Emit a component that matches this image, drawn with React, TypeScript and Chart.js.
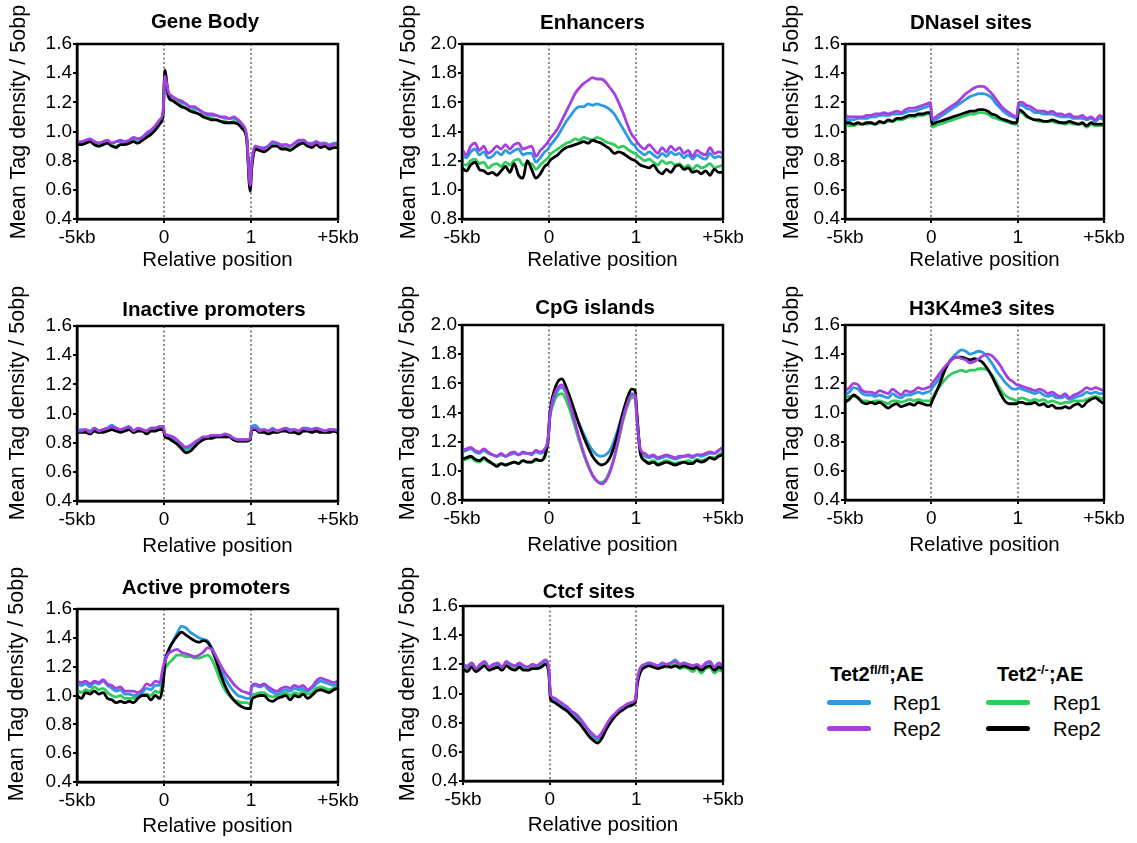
import React, { useEffect, useRef } from 'react';
import { Chart, registerables } from 'chart.js';

Chart.register(...registerables);

const FONT = "'Liberation Sans', Arial, Helvetica, sans-serif";

// Shared x positions (0 = -5kb, 1 = start "0", 2 = end "1", 3 = +5kb)
const POS = [
  0, 0.05, 0.1, 0.15, 0.2, 0.25, 0.3, 0.35, 0.4, 0.45, 0.5, 0.55, 0.6, 0.65, 0.7, 0.75, 0.8, 0.85, 0.9, 0.95,
  0.99, 1.01,
  1.05, 1.1, 1.15, 1.2, 1.25, 1.3, 1.35, 1.4, 1.45, 1.5, 1.55, 1.6, 1.65, 1.7, 1.75, 1.8, 1.85, 1.9, 1.95,
  1.99, 2.01,
  2.05, 2.1, 2.15, 2.2, 2.25, 2.3, 2.35, 2.4, 2.45, 2.5, 2.55, 2.6, 2.65, 2.7, 2.75, 2.8, 2.85, 2.9, 2.95, 3,
];
const X_LABELS = ['-5kb', '0', '1', '+5kb'];
const Y_TITLE = 'Mean Tag density / 5obp';
const X_TITLE = 'Relative position';
const SERIES_NAMES = ['Tet2fl/fl;AE Rep1', 'Tet2fl/fl;AE Rep2', 'Tet2-/-;AE Rep1', 'Tet2-/-;AE Rep2'];

// ---------- Gene Body ----------
const GB_FL1 = [
  0.93, 0.92, 0.94, 0.94, 0.93, 0.92, 0.92, 0.93, 0.92, 0.93, 0.93, 0.93, 0.94, 0.95, 0.95, 0.96, 0.98, 1.0, 1.03, 1.07,
  1.13, 1.4,
  1.27, 1.23, 1.22, 1.2, 1.19, 1.17, 1.16, 1.15, 1.13, 1.12, 1.11, 1.11, 1.1, 1.09, 1.09, 1.09, 1.08, 1.04, 0.97,
  0.62, 0.79,
  0.9, 0.89, 0.89, 0.9, 0.92, 0.92, 0.91, 0.91, 0.9, 0.92, 0.93, 0.94, 0.92, 0.92, 0.93, 0.92, 0.92, 0.91, 0.92, 0.92,
];
const GB_FL2 = [
  0.93, 0.93, 0.94, 0.95, 0.93, 0.92, 0.93, 0.94, 0.92, 0.93, 0.94, 0.93, 0.94, 0.96, 0.95, 0.96, 0.99, 1.01, 1.04, 1.08,
  1.14, 1.38,
  1.27, 1.24, 1.22, 1.21, 1.19, 1.17, 1.17, 1.15, 1.13, 1.12, 1.12, 1.11, 1.1, 1.1, 1.09, 1.1, 1.08, 1.05, 0.97,
  0.63, 0.8,
  0.9, 0.89, 0.88, 0.9, 0.93, 0.92, 0.9, 0.91, 0.9, 0.92, 0.94, 0.94, 0.92, 0.91, 0.93, 0.91, 0.92, 0.9, 0.91, 0.92,
];
const GB_KO1 = [
  0.91, 0.91, 0.92, 0.93, 0.91, 0.9, 0.91, 0.92, 0.9, 0.9, 0.91, 0.91, 0.92, 0.93, 0.93, 0.94, 0.96, 0.98, 1.02, 1.06,
  1.12, 1.4,
  1.25, 1.22, 1.2, 1.18, 1.16, 1.15, 1.14, 1.12, 1.11, 1.1, 1.09, 1.08, 1.07, 1.07, 1.06, 1.07, 1.06, 1.03, 0.96,
  0.61, 0.77,
  0.88, 0.88, 0.87, 0.88, 0.91, 0.9, 0.89, 0.89, 0.88, 0.89, 0.92, 0.92, 0.9, 0.9, 0.91, 0.9, 0.9, 0.89, 0.89, 0.9,
];
const GB_KO2 = [
  0.91, 0.91, 0.92, 0.93, 0.91, 0.9, 0.91, 0.92, 0.9, 0.89, 0.91, 0.91, 0.92, 0.93, 0.92, 0.94, 0.96, 0.98, 1.01, 1.05,
  1.12, 1.42,
  1.24, 1.21, 1.19, 1.17, 1.16, 1.14, 1.13, 1.12, 1.1, 1.09, 1.08, 1.08, 1.07, 1.06, 1.06, 1.06, 1.05, 1.02, 0.95,
  0.59, 0.76,
  0.88, 0.87, 0.86, 0.88, 0.9, 0.9, 0.88, 0.88, 0.87, 0.89, 0.91, 0.92, 0.9, 0.89, 0.91, 0.89, 0.9, 0.88, 0.89, 0.89,
];

// ---------- Enhancers ----------
const ENH_FL1 = [
  1.24, 1.22, 1.26, 1.28, 1.24, 1.26, 1.22, 1.23, 1.26, 1.24, 1.27, 1.25, 1.27, 1.28, 1.24, 1.25, 1.25, 1.19, 1.22, 1.26,
  1.28, 1.3,
  1.33, 1.37, 1.42, 1.47, 1.51, 1.55, 1.57, 1.57, 1.59, 1.58, 1.59, 1.58, 1.57, 1.55, 1.52, 1.47, 1.42, 1.37, 1.32,
  1.3, 1.28,
  1.26, 1.24, 1.26, 1.24, 1.22, 1.25, 1.23, 1.26, 1.24, 1.25, 1.22, 1.24, 1.21, 1.24, 1.22, 1.21, 1.25, 1.22, 1.23, 1.22,
];
const ENH_FL2 = [
  1.28, 1.24, 1.3, 1.32, 1.27, 1.3, 1.25, 1.27, 1.3, 1.28, 1.31, 1.28, 1.31, 1.32, 1.28, 1.29, 1.3, 1.23, 1.27, 1.3,
  1.33, 1.35,
  1.38, 1.42, 1.48, 1.54, 1.6, 1.66, 1.7, 1.73, 1.75, 1.77, 1.76, 1.76, 1.74, 1.7, 1.66, 1.6, 1.53, 1.45, 1.38,
  1.35, 1.33,
  1.3, 1.28, 1.31, 1.28, 1.25, 1.29, 1.26, 1.3, 1.27, 1.29, 1.25, 1.27, 1.23, 1.27, 1.25, 1.24, 1.29, 1.25, 1.26, 1.25,
];
const ENH_KO1 = [
  1.18, 1.17, 1.2, 1.21, 1.18, 1.19, 1.15, 1.17, 1.18, 1.16, 1.19, 1.17, 1.2, 1.21, 1.17, 1.18, 1.18, 1.14, 1.17, 1.2,
  1.22, 1.24,
  1.26, 1.28, 1.3, 1.32, 1.33, 1.35, 1.34, 1.36, 1.35, 1.34, 1.36, 1.35, 1.33, 1.32, 1.31, 1.29, 1.3, 1.28, 1.26,
  1.25, 1.24,
  1.22, 1.2, 1.21, 1.19, 1.17, 1.2, 1.18, 1.19, 1.17, 1.18, 1.15, 1.17, 1.14, 1.17, 1.15, 1.16, 1.18, 1.15, 1.16, 1.17,
];
const ENH_KO2 = [
  1.15, 1.13, 1.17, 1.19, 1.14, 1.13, 1.11, 1.12, 1.1, 1.13, 1.16, 1.12, 1.18, 1.1, 1.08, 1.2, 1.14, 1.08, 1.11, 1.16,
  1.18, 1.2,
  1.22, 1.24, 1.27, 1.29, 1.3, 1.31, 1.32, 1.33, 1.32, 1.34, 1.33, 1.32, 1.3, 1.28, 1.25, 1.26, 1.25, 1.23, 1.21,
  1.2, 1.19,
  1.17, 1.16, 1.15, 1.17, 1.13, 1.11, 1.14, 1.12, 1.16, 1.17, 1.14, 1.15, 1.12, 1.13, 1.11, 1.13, 1.1, 1.14, 1.12, 1.12,
];

// ---------- DNaseI sites ----------
const DNASE_FL1 = [
  1.09, 1.08, 1.08, 1.09, 1.09, 1.09, 1.1, 1.1, 1.11, 1.11, 1.11, 1.12, 1.12, 1.12, 1.13, 1.14, 1.14, 1.15, 1.16, 1.17,
  1.18, 1.07,
  1.08, 1.1, 1.12, 1.14, 1.16, 1.18, 1.2, 1.22, 1.24, 1.25, 1.26, 1.26, 1.25, 1.23, 1.19, 1.16, 1.13, 1.11, 1.1,
  1.09, 1.18,
  1.18, 1.16, 1.15, 1.13, 1.13, 1.12, 1.12, 1.12, 1.11, 1.1, 1.1, 1.1, 1.09, 1.09, 1.09, 1.08, 1.09, 1.07, 1.09, 1.08,
];
const DNASE_FL2 = [
  1.11, 1.1, 1.1, 1.1, 1.1, 1.11, 1.11, 1.12, 1.12, 1.13, 1.12, 1.13, 1.14, 1.13, 1.15, 1.16, 1.16, 1.17, 1.18, 1.19,
  1.2, 1.08,
  1.1, 1.12, 1.14, 1.16, 1.18, 1.2, 1.23, 1.26, 1.28, 1.3, 1.31, 1.31, 1.29, 1.26, 1.22, 1.18, 1.15, 1.13, 1.11,
  1.1, 1.2,
  1.2, 1.18, 1.17, 1.15, 1.14, 1.14, 1.13, 1.14, 1.12, 1.12, 1.11, 1.12, 1.1, 1.1, 1.11, 1.09, 1.1, 1.08, 1.11, 1.09,
];
const DNASE_KO1 = [
  1.05, 1.04, 1.04, 1.05, 1.05, 1.05, 1.06, 1.05, 1.06, 1.06, 1.07, 1.07, 1.08, 1.08, 1.09, 1.1, 1.1, 1.11, 1.11, 1.12,
  1.12, 1.03,
  1.04, 1.05, 1.06, 1.07, 1.08, 1.09, 1.1, 1.11, 1.12, 1.12, 1.13, 1.13, 1.12, 1.1, 1.09, 1.08, 1.07, 1.06, 1.05,
  1.05, 1.13,
  1.13, 1.1, 1.09, 1.08, 1.07, 1.07, 1.07, 1.07, 1.06, 1.06, 1.05, 1.06, 1.05, 1.05, 1.05, 1.03, 1.05, 1.04, 1.04, 1.04,
];
const DNASE_KO2 = [
  1.06, 1.06, 1.05, 1.06, 1.05, 1.06, 1.06, 1.05, 1.07, 1.06, 1.08, 1.07, 1.09, 1.09, 1.1, 1.11, 1.11, 1.12, 1.12, 1.13,
  1.13, 1.05,
  1.06, 1.07, 1.08, 1.09, 1.1, 1.11, 1.12, 1.13, 1.14, 1.14, 1.15, 1.15, 1.14, 1.12, 1.11, 1.09, 1.08, 1.07, 1.06,
  1.06, 1.15,
  1.14, 1.11, 1.09, 1.08, 1.08, 1.07, 1.07, 1.08, 1.07, 1.06, 1.06, 1.07, 1.06, 1.05, 1.06, 1.04, 1.06, 1.05, 1.05, 1.05,
];

// ---------- Inactive promoters ----------
const INACT_FL1 = [
  0.88, 0.89, 0.89, 0.88, 0.9, 0.88, 0.89, 0.9, 0.92, 0.9, 0.89, 0.9, 0.91, 0.88, 0.9, 0.89, 0.88, 0.9, 0.9, 0.91,
  0.91, 0.86,
  0.85, 0.83, 0.81, 0.79, 0.76, 0.77, 0.8, 0.82, 0.83, 0.84, 0.85, 0.85, 0.85, 0.85, 0.85, 0.83, 0.82, 0.82, 0.82,
  0.83, 0.91,
  0.92, 0.89, 0.89, 0.88, 0.9, 0.88, 0.89, 0.9, 0.89, 0.89, 0.88, 0.9, 0.9, 0.89, 0.9, 0.89, 0.88, 0.89, 0.89, 0.88,
];
const INACT_FL2 = [
  0.88, 0.88, 0.89, 0.87, 0.9, 0.88, 0.89, 0.9, 0.91, 0.9, 0.89, 0.9, 0.91, 0.88, 0.9, 0.89, 0.88, 0.9, 0.9, 0.91,
  0.91, 0.86,
  0.85, 0.84, 0.82, 0.79, 0.77, 0.78, 0.8, 0.82, 0.84, 0.84, 0.85, 0.85, 0.85, 0.86, 0.85, 0.83, 0.82, 0.82, 0.82,
  0.83, 0.9,
  0.9, 0.88, 0.89, 0.88, 0.89, 0.88, 0.89, 0.9, 0.88, 0.89, 0.88, 0.9, 0.89, 0.89, 0.9, 0.89, 0.88, 0.89, 0.89, 0.88,
];
const INACT_KO1 = [
  0.87, 0.88, 0.88, 0.87, 0.89, 0.87, 0.88, 0.89, 0.9, 0.89, 0.88, 0.89, 0.9, 0.87, 0.89, 0.88, 0.87, 0.89, 0.89, 0.9,
  0.9, 0.85,
  0.84, 0.82, 0.8, 0.77, 0.74, 0.75, 0.78, 0.81, 0.82, 0.83, 0.84, 0.84, 0.84, 0.84, 0.84, 0.82, 0.81, 0.81, 0.81,
  0.82, 0.89,
  0.9, 0.88, 0.88, 0.87, 0.88, 0.87, 0.88, 0.89, 0.88, 0.88, 0.87, 0.89, 0.89, 0.88, 0.89, 0.88, 0.87, 0.88, 0.88, 0.87,
];
const INACT_KO2 = [
  0.87, 0.87, 0.87, 0.86, 0.88, 0.87, 0.87, 0.88, 0.89, 0.88, 0.87, 0.88, 0.89, 0.87, 0.88, 0.88, 0.86, 0.88, 0.88, 0.89,
  0.89, 0.84,
  0.83, 0.81, 0.79, 0.76, 0.73, 0.74, 0.77, 0.8, 0.82, 0.83, 0.83, 0.84, 0.84, 0.84, 0.84, 0.82, 0.81, 0.81, 0.81,
  0.82, 0.89,
  0.89, 0.87, 0.87, 0.86, 0.87, 0.87, 0.88, 0.88, 0.87, 0.87, 0.86, 0.88, 0.88, 0.87, 0.88, 0.87, 0.87, 0.87, 0.88, 0.87,
];

// ---------- CpG islands ----------
const CPG_FL1 = [
  1.13, 1.14, 1.15, 1.13, 1.12, 1.14, 1.12, 1.11, 1.1, 1.11, 1.1, 1.11, 1.12, 1.11, 1.12, 1.12, 1.11, 1.13, 1.12, 1.14,
  1.22, 1.37,
  1.48, 1.55, 1.57, 1.53, 1.47, 1.39, 1.32, 1.25, 1.19, 1.14, 1.11, 1.1, 1.11, 1.14, 1.21, 1.3, 1.4, 1.48, 1.53,
  1.52, 1.38,
  1.14, 1.1, 1.09, 1.1, 1.08, 1.09, 1.1, 1.09, 1.08, 1.09, 1.1, 1.1, 1.09, 1.11, 1.1, 1.11, 1.12, 1.12, 1.14, 1.16,
];
const CPG_FL2 = [
  1.14, 1.15, 1.16, 1.14, 1.13, 1.15, 1.13, 1.11, 1.1, 1.12, 1.1, 1.12, 1.13, 1.11, 1.13, 1.12, 1.12, 1.14, 1.13, 1.15,
  1.22, 1.38,
  1.5, 1.57, 1.59, 1.53, 1.44, 1.33, 1.22, 1.12, 1.04, 0.97, 0.93, 0.91, 0.93, 0.99, 1.09, 1.22, 1.36, 1.46, 1.52,
  1.52, 1.36,
  1.15, 1.12, 1.1, 1.11, 1.09, 1.1, 1.11, 1.1, 1.09, 1.1, 1.1, 1.11, 1.1, 1.11, 1.11, 1.12, 1.13, 1.12, 1.14, 1.16,
];
const CPG_KO1 = [
  1.07, 1.08, 1.09, 1.07, 1.06, 1.08, 1.06, 1.05, 1.04, 1.05, 1.04, 1.05, 1.06, 1.05, 1.07, 1.06, 1.06, 1.07, 1.07, 1.09,
  1.2, 1.36,
  1.46, 1.52, 1.53, 1.48, 1.4, 1.3, 1.2, 1.11, 1.03, 0.97, 0.93, 0.92, 0.94, 1.0, 1.09, 1.21, 1.34, 1.44, 1.5,
  1.5, 1.35,
  1.12, 1.07, 1.06, 1.07, 1.05, 1.06, 1.07, 1.06, 1.05, 1.06, 1.06, 1.07, 1.06, 1.08, 1.07, 1.08, 1.09, 1.09, 1.11, 1.13,
];
const CPG_KO2 = [
  1.08, 1.09, 1.1, 1.08, 1.07, 1.09, 1.07, 1.05, 1.03, 1.05, 1.04, 1.05, 1.06, 1.05, 1.07, 1.06, 1.06, 1.08, 1.07, 1.1,
  1.22, 1.4,
  1.53, 1.61, 1.63, 1.57, 1.49, 1.4, 1.31, 1.23, 1.16, 1.1, 1.06, 1.04, 1.05, 1.09, 1.17, 1.28, 1.4, 1.5, 1.56,
  1.55, 1.4,
  1.12, 1.07, 1.05, 1.06, 1.04, 1.05, 1.06, 1.05, 1.04, 1.05, 1.06, 1.05, 1.05, 1.07, 1.06, 1.07, 1.09, 1.08, 1.1, 1.11,
];

// ---------- H3K4me3 sites ----------
const H3K4_FL1 = [
  1.12, 1.14, 1.17, 1.16, 1.13, 1.12, 1.12, 1.11, 1.12, 1.11, 1.1, 1.13, 1.11, 1.1, 1.12, 1.12, 1.13, 1.14, 1.13, 1.14,
  1.15, 1.17,
  1.2, 1.24, 1.29, 1.34, 1.38, 1.41, 1.43, 1.42, 1.4, 1.41, 1.42, 1.41, 1.38, 1.34, 1.29, 1.25, 1.21, 1.18, 1.16,
  1.16, 1.17,
  1.16, 1.15, 1.14, 1.13, 1.14, 1.12, 1.11, 1.12, 1.1, 1.1, 1.11, 1.09, 1.1, 1.11, 1.12, 1.14, 1.13, 1.14, 1.13, 1.13,
];
const H3K4_FL2 = [
  1.15, 1.17, 1.2, 1.19, 1.15, 1.14, 1.14, 1.13, 1.15, 1.14, 1.13, 1.16, 1.14, 1.12, 1.15, 1.14, 1.15, 1.17, 1.16, 1.17,
  1.18, 1.2,
  1.23, 1.27, 1.31, 1.34, 1.37, 1.38, 1.37, 1.36, 1.34, 1.35, 1.37, 1.39, 1.4, 1.39, 1.36, 1.32, 1.27, 1.23, 1.21,
  1.19, 1.19,
  1.18, 1.17, 1.16, 1.15, 1.16, 1.15, 1.13, 1.14, 1.12, 1.11, 1.13, 1.1, 1.12, 1.13, 1.15, 1.17, 1.16, 1.17, 1.16, 1.15,
];
const H3K4_KO1 = [
  1.1, 1.11, 1.11, 1.1, 1.08, 1.08, 1.07, 1.08, 1.08, 1.07, 1.06, 1.08, 1.08, 1.07, 1.08, 1.09, 1.08, 1.09, 1.08, 1.08,
  1.08, 1.1,
  1.14, 1.18, 1.22, 1.25, 1.27, 1.28, 1.29, 1.28, 1.29, 1.29, 1.3, 1.3, 1.29, 1.26, 1.21, 1.16, 1.12, 1.1, 1.09,
  1.08, 1.09,
  1.1, 1.09, 1.08, 1.09, 1.08, 1.09, 1.07, 1.08, 1.07, 1.06, 1.07, 1.07, 1.08, 1.08, 1.08, 1.09, 1.1, 1.11, 1.1, 1.09,
];
const H3K4_KO2 = [
  1.07, 1.09, 1.12, 1.1, 1.07, 1.06, 1.07, 1.06, 1.07, 1.05, 1.03, 1.05, 1.06, 1.04, 1.05, 1.06, 1.05, 1.07, 1.06, 1.05,
  1.05, 1.08,
  1.13, 1.2, 1.28, 1.34, 1.37, 1.38, 1.38, 1.37, 1.36, 1.37, 1.36, 1.34, 1.3, 1.25, 1.19, 1.13, 1.08, 1.06, 1.06,
  1.06, 1.07,
  1.07, 1.06, 1.06, 1.07, 1.05, 1.06, 1.04, 1.05, 1.03, 1.03, 1.04, 1.03, 1.05, 1.06, 1.04, 1.07, 1.09, 1.1, 1.08, 1.06,
];

// ---------- Active promoters ----------
const ACT_FL1 = [
  1.08, 1.07, 1.08, 1.06, 1.09, 1.08, 1.1, 1.07, 1.05, 1.03, 1.04, 1.01, 1.01, 1.0, 1.0, 1.02, 1.05, 1.04, 1.07, 1.07,
  1.16, 1.25,
  1.31, 1.37, 1.43, 1.48, 1.47, 1.44, 1.42, 1.4, 1.39, 1.38, 1.33, 1.26, 1.18, 1.12, 1.07, 1.03, 1.0, 0.99, 0.98,
  0.98, 1.06,
  1.07, 1.06, 1.07, 1.04, 1.02, 1.01, 1.03, 1.04, 1.03, 1.05, 1.04, 1.05, 1.03, 1.05, 1.08, 1.1, 1.09, 1.08, 1.07, 1.08,
];
const ACT_FL2 = [
  1.1, 1.09, 1.1, 1.08, 1.1, 1.09, 1.11, 1.08, 1.07, 1.05, 1.06, 1.03, 1.03, 1.03, 1.02, 1.04, 1.08, 1.07, 1.1, 1.09,
  1.2, 1.24,
  1.29, 1.31, 1.32, 1.3, 1.29, 1.28, 1.27, 1.28, 1.3, 1.33, 1.32, 1.27, 1.21, 1.16, 1.12, 1.08, 1.05, 1.03, 1.02,
  1.01, 1.07,
  1.08, 1.07, 1.08, 1.06, 1.04, 1.03, 1.05, 1.06, 1.05, 1.07, 1.06, 1.07, 1.04, 1.06, 1.1, 1.12, 1.11, 1.1, 1.09, 1.1,
];
const ACT_KO1 = [
  1.04, 1.02, 1.04, 1.03, 1.06, 1.04, 1.05, 1.02, 1.0, 0.99, 1.0, 0.98, 0.98, 0.98, 0.99, 1.01, 1.01, 1.0, 1.03, 1.02,
  1.12, 1.18,
  1.22, 1.25, 1.28, 1.28, 1.27, 1.27, 1.26, 1.26, 1.27, 1.28, 1.25, 1.18, 1.1, 1.04, 1.0, 0.97, 0.96, 0.95, 0.95,
  0.94, 1.0,
  1.01, 1.02, 1.02, 1.0, 0.99, 1.0, 1.01, 1.02, 1.0, 1.02, 1.01, 1.03, 1.01, 1.02, 1.05, 1.06, 1.05, 1.04, 1.05, 1.06,
];
const ACT_KO2 = [
  1.0, 0.98, 1.02, 1.01, 1.03, 1.01, 1.02, 0.98, 0.97, 0.95, 0.96, 0.95, 0.96, 0.95, 0.98, 1.0, 1.0, 0.97, 1.0, 0.98,
  1.08, 1.22,
  1.31, 1.37, 1.41, 1.44, 1.42, 1.4, 1.38, 1.37, 1.38, 1.37, 1.32, 1.24, 1.15, 1.07, 1.01, 0.97, 0.94, 0.92, 0.91,
  0.91, 0.97,
  0.99, 1.0, 1.0, 0.97, 0.96, 0.98, 0.99, 1.0, 0.97, 1.0, 0.99, 1.01, 0.98, 1.0, 1.03, 1.04, 1.03, 1.02, 1.04, 1.05,
];

// ---------- Ctcf sites ----------
const CTCF_FL1 = [
  1.2, 1.19, 1.21, 1.17, 1.2, 1.21, 1.18, 1.2, 1.2, 1.18, 1.21, 1.2, 1.19, 1.2, 1.19, 1.18, 1.2, 1.19, 1.21, 1.22,
  1.16, 0.98,
  0.96, 0.94, 0.92, 0.9, 0.87, 0.85, 0.82, 0.78, 0.74, 0.71, 0.69, 0.72, 0.77, 0.82, 0.85, 0.88, 0.9, 0.92, 0.93,
  0.95, 1.08,
  1.17, 1.2, 1.21, 1.2, 1.19, 1.2, 1.2, 1.21, 1.23, 1.2, 1.2, 1.2, 1.19, 1.19, 1.18, 1.2, 1.21, 1.18, 1.2, 1.18,
];
const CTCF_FL2 = [
  1.2, 1.18, 1.21, 1.17, 1.2, 1.22, 1.18, 1.2, 1.21, 1.18, 1.22, 1.2, 1.19, 1.21, 1.19, 1.18, 1.2, 1.19, 1.21, 1.23,
  1.17, 0.99,
  0.97, 0.95, 0.93, 0.91, 0.88, 0.86, 0.83, 0.79, 0.75, 0.72, 0.7, 0.73, 0.78, 0.83, 0.86, 0.89, 0.91, 0.93, 0.94,
  0.96, 1.09,
  1.18, 1.2, 1.21, 1.2, 1.19, 1.21, 1.2, 1.21, 1.22, 1.2, 1.21, 1.2, 1.19, 1.2, 1.18, 1.21, 1.22, 1.18, 1.21, 1.19,
];
const CTCF_KO1 = [
  1.18, 1.16, 1.19, 1.15, 1.18, 1.2, 1.16, 1.18, 1.19, 1.16, 1.2, 1.18, 1.17, 1.19, 1.17, 1.16, 1.18, 1.17, 1.19, 1.21,
  1.15, 0.97,
  0.95, 0.93, 0.91, 0.89, 0.86, 0.84, 0.81, 0.77, 0.73, 0.7, 0.68, 0.71, 0.76, 0.81, 0.85, 0.88, 0.9, 0.91, 0.93,
  0.94, 1.07,
  1.16, 1.19, 1.2, 1.19, 1.18, 1.19, 1.18, 1.19, 1.2, 1.17, 1.18, 1.17, 1.15, 1.17, 1.14, 1.17, 1.18, 1.14, 1.16, 1.15,
];
const CTCF_KO2 = [
  1.17, 1.15, 1.18, 1.15, 1.17, 1.19, 1.16, 1.17, 1.18, 1.16, 1.19, 1.17, 1.16, 1.18, 1.16, 1.16, 1.17, 1.17, 1.18, 1.2,
  1.14, 0.96,
  0.94, 0.92, 0.9, 0.88, 0.85, 0.82, 0.79, 0.75, 0.71, 0.68, 0.66, 0.69, 0.75, 0.8, 0.84, 0.87, 0.89, 0.91, 0.92,
  0.94, 1.06,
  1.15, 1.18, 1.19, 1.18, 1.17, 1.18, 1.19, 1.18, 1.19, 1.18, 1.19, 1.18, 1.17, 1.18, 1.16, 1.18, 1.19, 1.16, 1.18, 1.17,
];

const PANELS = [
  { title: 'Gene Body', yMin: 0.4, yMax: 1.6, data: [GB_FL1, GB_FL2, GB_KO1, GB_KO2] },
  { title: 'Enhancers', yMin: 0.8, yMax: 2.0, data: [ENH_FL1, ENH_FL2, ENH_KO1, ENH_KO2] },
  { title: 'DNaseI sites', yMin: 0.4, yMax: 1.6, data: [DNASE_FL1, DNASE_FL2, DNASE_KO1, DNASE_KO2] },
  { title: 'Inactive promoters', yMin: 0.4, yMax: 1.6, data: [INACT_FL1, INACT_FL2, INACT_KO1, INACT_KO2] },
  { title: 'CpG islands', yMin: 0.8, yMax: 2.0, data: [CPG_FL1, CPG_FL2, CPG_KO1, CPG_KO2] },
  { title: 'H3K4me3 sites', yMin: 0.4, yMax: 1.6, data: [H3K4_FL1, H3K4_FL2, H3K4_KO1, H3K4_KO2] },
  { title: 'Active promoters', yMin: 0.4, yMax: 1.6, data: [ACT_FL1, ACT_FL2, ACT_KO1, ACT_KO2] },
  { title: 'Ctcf sites', yMin: 0.4, yMax: 1.6, data: [CTCF_FL1, CTCF_FL2, CTCF_KO1, CTCF_KO2] },
];

// Layout (absolute page pixels)
const LAYOUT = [
  { left: 77, top: 44, right: 338, bottom: 219, titleX: 205, titleY: 22, yTitleX: 19, yTitleY: 122, xTitleDy: 41 },
  { left: 462, top: 44, right: 723, bottom: 219, titleX: 592.5, titleY: 23.5, yTitleX: 409, yTitleY: 122, xTitleDy: 41 },
  { left: 845, top: 44, right: 1104, bottom: 219, titleX: 971, titleY: 23.5, yTitleX: 792, yTitleY: 122, xTitleDy: 41 },
  { left: 77, top: 326, right: 338, bottom: 501, titleX: 214, titleY: 310.5, yTitleX: 18, yTitleY: 403, xTitleDy: 45 },
  { left: 462, top: 325, right: 723, bottom: 499.5, titleX: 595, titleY: 308.5, yTitleX: 408, yTitleY: 403, xTitleDy: 45 },
  { left: 845, top: 325, right: 1104, bottom: 499.5, titleX: 982, titleY: 309, yTitleX: 792, yTitleY: 403, xTitleDy: 45 },
  { left: 77, top: 609, right: 338, bottom: 782, titleX: 206, titleY: 588, yTitleX: 17, yTitleY: 684, xTitleDy: 44 },
  { left: 463, top: 606, right: 723, bottom: 781, titleX: 589, titleY: 592, yTitleX: 408, yTitleY: 684, xTitleDy: 44 },
];

const COLORS = ['#2b9ae0', '#a63fe0', '#2fcc5c', '#000000'];
const ORDER = [2, 0, 3, 1]; // purple on top, then black, blue, green
const Y_AXIS_W = 77;
const PAD_TOP = 44;
const PAD_RIGHT = 33;
const X_AXIS_H = 58;

const decoPlugin = {
  id: 'deco',
  beforeDatasetsDraw(chart: any, _args: any, opts: any) {
    const { ctx, chartArea: a, scales } = chart;
    ctx.save();
    ctx.strokeStyle = '#8c8c8c';
    ctx.lineWidth = 2;
    ctx.setLineDash([2, 2.5]);
    for (const v of [1, 2]) {
      const px = Math.round(scales.x.getPixelForValue(v));
      ctx.beginPath();
      ctx.moveTo(px, a.top);
      ctx.lineTo(px, a.bottom);
      ctx.stroke();
    }
    ctx.restore();
  },
  afterDraw(chart: any, _args: any, opts: any) {
    const { ctx, chartArea: a } = chart;
    ctx.save();
    ctx.strokeStyle = '#000';
    ctx.lineWidth = 2.5;
    ctx.setLineDash([]);
    ctx.strokeRect(a.left, a.top, a.right - a.left, a.bottom - a.top);
    ctx.fillStyle = '#000';
    ctx.textAlign = 'center';
    ctx.textBaseline = 'middle';
    ctx.font = `bold 20.5px ${FONT}`;
    ctx.fillText(opts.title, opts.titleX, opts.titleY);
    ctx.font = `20.5px ${FONT}`;
    ctx.fillText(X_TITLE, (a.left + a.right) / 2 + 10, a.bottom + opts.xTitleDy);
    ctx.font = `21.5px ${FONT}`;
    ctx.translate(opts.yTitleX, opts.yTitleY);
    ctx.rotate(-Math.PI / 2);
    ctx.fillText(Y_TITLE, 0, 0);
    ctx.restore();
  },
};

function Panel({ idx }: { idx: number }) {
  const ref = useRef<HTMLCanvasElement>(null);
  const p = PANELS[idx];
  const L = LAYOUT[idx];
  const cl = L.left - Y_AXIS_W;
  const ct = L.top - PAD_TOP;
  const w = Math.round(L.right - L.left + Y_AXIS_W + PAD_RIGHT);
  const h = Math.round(PAD_TOP + (L.bottom - L.top) + X_AXIS_H);

  useEffect(() => {
    if (!ref.current) return;
    const chart = new Chart(ref.current, {
      type: 'line',
      data: {
        datasets: p.data.map((ys, i) => ({
          label: SERIES_NAMES[i],
          data: POS.map((x, j) => ({ x, y: ys[j] })),
          borderColor: COLORS[i],
          backgroundColor: COLORS[i],
          borderWidth: 2.8,
          pointRadius: 0,
          fill: false,
          order: ORDER[i],
          cubicInterpolationMode: 'monotone',
        })),
      },
      options: {
        responsive: false,
        animation: false,
        events: [],
        layout: { padding: { top: PAD_TOP, right: PAD_RIGHT, left: 0, bottom: 0 } },
        plugins: {
          legend: { display: false },
          tooltip: { enabled: false },
          title: { display: false },
          deco: {
            title: p.title,
            titleX: L.titleX - cl,
            titleY: L.titleY - ct,
            yTitleX: L.yTitleX - cl,
            yTitleY: L.yTitleY - ct,
            xTitleDy: L.xTitleDy,
          },
        } as any,
        scales: {
          x: {
            type: 'linear',
            min: 0,
            max: 3,
            ticks: {
              stepSize: 1,
              autoSkip: false,
              maxRotation: 0,
              padding: 3,
              color: '#000',
              font: { family: FONT, size: 19 },
              callback: (v: any) => X_LABELS[Math.round(Number(v))] ?? '',
            },
            grid: { display: true, drawOnChartArea: false, drawTicks: true, tickLength: 4, color: '#000', lineWidth: 2 },
            border: { display: true, color: '#000', width: 2.5 },
            title: { display: false },
            afterFit: (s: any) => { s.height = X_AXIS_H; },
          },
          y: {
            type: 'linear',
            min: p.yMin,
            max: p.yMax,
            ticks: {
              stepSize: 0.2,
              padding: 1,
              color: '#000',
              font: { family: FONT, size: 19 },
              callback: (v: any) => Number(v).toFixed(1),
            },
            grid: { display: true, drawOnChartArea: false, drawTicks: true, tickLength: 4, color: '#000', lineWidth: 2 },
            border: { display: true, color: '#000', width: 2.5 },
            title: { display: false },
            afterFit: (s: any) => { s.width = Y_AXIS_W; },
          },
        },
      } as any,
      plugins: [decoPlugin as any],
    });
    return () => chart.destroy();
  }, []);

  return (
    <canvas
      ref={ref}
      width={w}
      height={h}
      style={{ position: 'absolute', left: cl, top: ct, width: w, height: h }}
    />
  );
}

function Legend() {
  const head: React.CSSProperties = {
    position: 'absolute', font: `bold 20px ${FONT}`, lineHeight: '24px', whiteSpace: 'nowrap', color: '#000',
  };
  const sup: React.CSSProperties = { fontSize: 13, position: 'relative', top: -7 };
  const lab: React.CSSProperties = {
    position: 'absolute', font: `20px ${FONT}`, lineHeight: '24px', whiteSpace: 'nowrap', color: '#000',
  };
  const sw = (left: number, cy: number, color: string): React.CSSProperties => ({
    position: 'absolute', left, top: cy - 2.5, width: 44, height: 5, borderRadius: 3, background: color,
  });
  return (
    <>
      <div style={{ ...head, left: 830, top: 662 }}>Tet2<span style={sup}>fl/fl</span>;AE</div>
      <div style={{ ...head, left: 997, top: 662 }}>Tet2<span style={sup}>-/-</span>;AE</div>
      <div style={sw(827, 702, COLORS[0])} />
      <div style={sw(827, 728.5, COLORS[1])} />
      <div style={sw(986, 702, COLORS[2])} />
      <div style={sw(986, 728.5, COLORS[3])} />
      <div style={{ ...lab, left: 893, top: 691 }}>Rep1</div>
      <div style={{ ...lab, left: 893, top: 716.5 }}>Rep2</div>
      <div style={{ ...lab, left: 1053, top: 691 }}>Rep1</div>
      <div style={{ ...lab, left: 1053, top: 716.5 }}>Rep2</div>
    </>
  );
}

export default function App() {
  return (
    <div
      style={{
        position: 'absolute', left: 0, top: 0, width: 1137, height: 843,
        background: '#fff', overflow: 'hidden', fontFamily: FONT,
      }}
    >
      {PANELS.map((_, i) => <Panel key={i} idx={i} />)}
      <Legend />
    </div>
  );
}
